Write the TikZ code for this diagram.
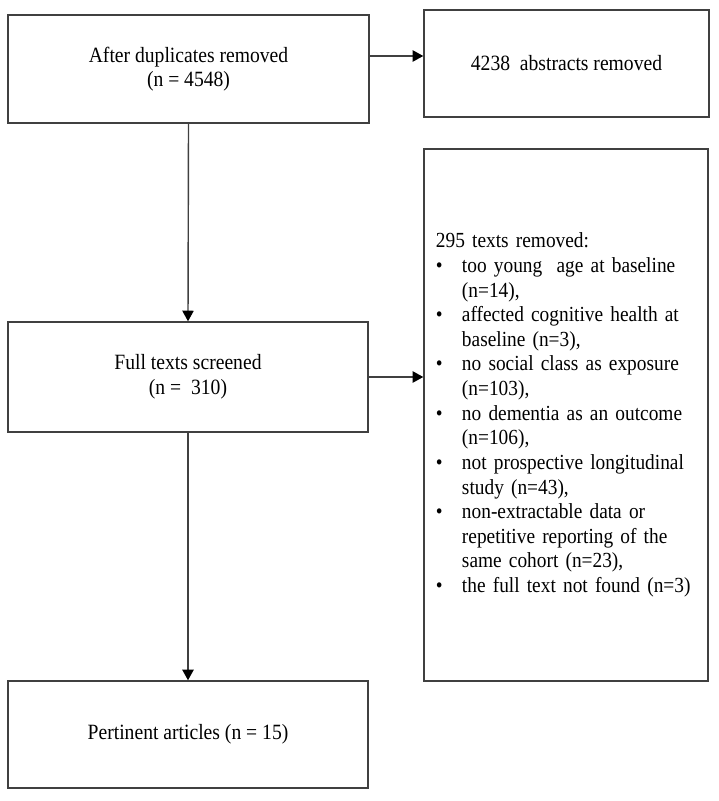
\documentclass[tikz,border=0pt]{standalone}
\usepackage{fontspec}
\setmainfont{Liberation Serif}[FakeStretch=0.9]
\usetikzlibrary{arrows.meta}
\newcommand{\punto}{\makebox[0.65cm][l]{\textbullet}}
\newcommand{\rientro}{\hspace*{0.65cm}}
\begin{document}
\begin{tikzpicture}[x=0.025cm, y=-0.025cm,
		scatola/.style={draw=black!75, line width=1pt, align=center, font=\fontsize{15.5pt}{17.5pt}\selectfont},
		freccia/.style={draw=black!75, line width=1pt, -{Triangle[length=7.5pt, width=8pt, black]}}]
		% margini
		\useasboundingbox (0,0) rectangle (718,801);
		
		% caselle
		\node[scatola, minimum width=9.025cm, minimum height=2.7cm] (dupl) at (188.5,69) {After duplicates removed\\(n = 4548)};
		\node[scatola, minimum width=7.125cm, minimum height=2.675cm] (abstr) at (566.5,63.5) {4238~ abstracts removed};
		\node[scatola, minimum width=9cm, minimum height=2.75cm] (full) at (188,377) {Full texts screened\\(n =~ 310)};
		\node[scatola, minimum width=9cm, minimum height=2.675cm] (pert) at (188,734.5) {Pertinent articles (n = 15)};
		\node[scatola, minimum width=7.1cm, minimum height=13.3cm, text width=6.5cm, inner xsep=0.3cm, align=left,
			font=\fontsize{15.3pt}{17.5pt}\selectfont] (esclusi) at (566,415) {295 texts removed:\\
			\punto too young~ age at baseline\\
			\rientro (n=14),\\
			\punto affected cognitive health at\\
			\rientro baseline (n=3),\\
			\punto no social class as exposure\\
			\rientro (n=103),\\
			\punto no dementia as an outcome\\
			\rientro (n=106),\\
			\punto not prospective longitudinal\\
			\rientro study (n=43),\\
			\punto non-extractable data or\\
			\rientro repetitive reporting of the\\
			\rientro same cohort (n=23),\\
			\punto the full text not found (n=3)};
		
		% frecce
		\draw[freccia] ([yshift=0.325cm]dupl.east) -- ([yshift=0.325cm]dupl.east -| abstr.west);
		\draw[freccia] (dupl.south) -- (full.north);
		\draw[freccia] (full.east) -- (full.east -| esclusi.west);
		\draw[freccia] (full.south) -- (pert.north);
	\end{tikzpicture}
\end{document}
